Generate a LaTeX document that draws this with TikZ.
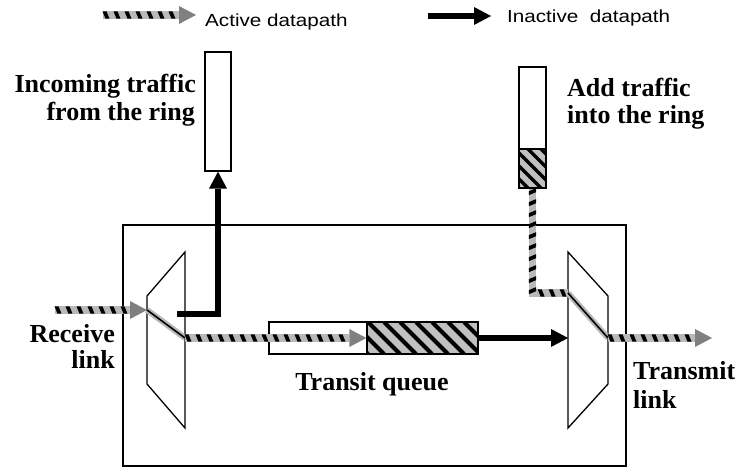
\documentclass[tikz,border=0pt]{standalone}
\usepackage{fontspec}
\setmainfont{Liberation Serif}
\newfontfamily\legfont{Liberation Sans}[FakeStretch=1.18]
\usetikzlibrary{arrows.meta,decorations.markings}
\definecolor{actgray}{RGB}{185,185,185}
\definecolor{hatchgray}{RGB}{192,192,192}
\begin{document}
\begin{tikzpicture}[x=1pt,y=-1pt,
  box/.style={draw,line width=1.3pt,inner sep=0pt},
  lbl/.style={inner sep=0pt,font=\fontsize{26}{28}\selectfont\bfseries},
  leg/.style={inner sep=0pt,font=\legfont\fontsize{17.5}{20}\selectfont},
  actbase/.style={draw=actgray,line width=7.5pt,line join=miter},
  actdash/.style={postaction={decorate,decoration={markings,
      mark=between positions 3pt and #1 step 11pt with {\fill[black] (-3.5,-3.7) -- (0.5,-3.7) -- (3.5,3.7) -- (-0.5,3.7) -- cycle;}}}},
  actline/.style={actbase,actdash=-2pt},
  act/.style={actbase,-{Triangle[length=17pt,width=18pt,line width=0pt,fill=black!50]},actdash=-19pt},
  thru/.style={draw=actgray,line width=6pt,postaction={draw=black,line width=1.6pt}},
  inact/.style={draw=black,line width=5.5pt,-{Triangle[length=17pt,width=18pt,line width=0pt]}},
  mux/.style={draw=black,line width=1.3pt,line join=miter}]
\useasboundingbox (0,0) rectangle (744,476);

% outer router box
\node[box,line width=1.2pt,minimum width=503pt,minimum height=241pt] (router) at (374.5,345.5) {};

% hatched fills
\begin{scope}
  \clip (367,322) rectangle (478,354);
  \fill[hatchgray] (367,322) rectangle (478,354);
  \foreach \x in {320,336,...,480} \draw[line width=4pt] (\x,322) -- ++(32,32);
\end{scope}
\begin{scope}
  \clip (519,149) rectangle (546,188);
  \fill[hatchgray] (519,149) rectangle (546,188);
  \foreach \x in {476,489,...,550} \draw[line width=3.5pt] (\x,149) -- ++(39,39);
\end{scope}

% buffers
\node[box,minimum width=26pt,minimum height=119pt] (inbox) at (218,111.5) {};
\node[box,minimum width=27pt,minimum height=82pt] (addempty) at (532.5,108) {};
\node[box,minimum width=27pt,minimum height=39pt] (addfull) at (532.5,168.5) {};
\node[box,minimum width=98pt,minimum height=32pt] (qempty) at (318,338) {};
\node[box,minimum width=111pt,minimum height=32pt] (qfull) at (422.5,338) {};

% muxes
\coordinate (lm1) at (147,296); \coordinate (lm2) at (185,252);
\coordinate (lm3) at (185,428); \coordinate (lm4) at (147,384);
\draw[mux] (lm1) -- (lm2) -- (lm3) -- (lm4) -- cycle;
\coordinate (rm1) at (568,252); \coordinate (rm2) at (608,296);
\coordinate (rm3) at (608,384); \coordinate (rm4) at (568,428);
\draw[mux] (rm1) -- (rm2) -- (rm3) -- (rm4) -- cycle;

% path points
\coordinate (rxin) at (55,310);
\coordinate (lmuxa) at (147,310);
\coordinate (lmuxb) at (185,338);
\coordinate (lsplit) at (177,314);
\coordinate (rmuxa) at (568,293);
\coordinate (rmuxb) at (608,338);
\coordinate (rmuxin) at (568,338);
\coordinate (txout) at (712,338);

% inactive datapaths
\draw[inact] (lsplit) -| (inbox.south);
\draw[inact] (qfull.east) -- (rmuxin);

% active datapaths
\draw[act] (rxin) -- (lmuxa);
\draw[thru] (lmuxa) -- (lmuxb);
\draw[act] (lmuxb) -- (qfull.west);
\draw[actline] (addfull.south) |- (rmuxa);
\draw[thru] (rmuxa) -- (rmuxb);
\draw[act] (rmuxb) -- (txout);

% labels
\node[lbl,anchor=base east] (inc1) at (196,93) {Incoming traffic};
\node[lbl,anchor=base east] (inc2) at (195,121) {from the ring};
\node[lbl,anchor=base west] (add1) at (567,97) {Add traffic};
\node[lbl,anchor=base west] (add2) at (567,124) {into the ring};
\node[lbl,anchor=base east] (rcv1) at (115,342) {Receive};
\node[lbl,anchor=base east] (rcv2) at (115,368) {link};
\node[lbl,anchor=base] (tq) at (372,390) {Transit queue};
\node[lbl,anchor=base west] (tx1) at (633,379) {Transmit};
\node[lbl,anchor=base west] (tx2) at (633,408) {link};

% legend
\coordinate (la1) at (103,15); \coordinate (la2) at (196,15);
\draw[act] (la1) -- (la2);
\node[leg,anchor=base west] (lat) at (205,27) {Active datapath};
\coordinate (li1) at (428,16); \coordinate (li2) at (491,16);
\draw[inact] (li1) -- (li2);
\node[leg,anchor=base west] (lit) at (507,22.5) {Inactive\ \ datapath};
\end{tikzpicture}
\end{document}
